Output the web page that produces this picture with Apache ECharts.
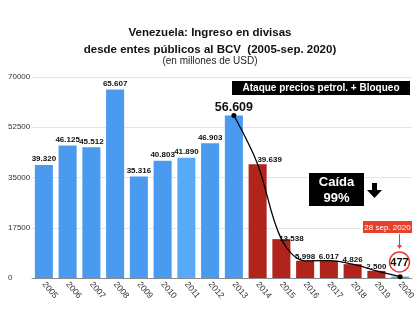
<!DOCTYPE html>
<html>
<head>
<meta charset="utf-8">
<script src="https://cdn.jsdelivr.net/npm/echarts@6/dist/echarts.min.js"></script>
<style>html,body{margin:0;padding:0;background:#fff}#c{width:420px;height:330px}</style>
</head>
<body>
<div id="c"></div>
<script>
const years = ['2005','2006','2007','2008','2009','2010','2011','2012','2013','2014','2015','2016','2017','2018','2019','2020'];
const ingresos = [39320, 46125, 45512, 65607, 35316, 40803, 41890, 46903, 56609, 39639, 13538, 5998, 6017, 4826, 2500, 477];
const periodo = ['azul','azul','azul','azul','azul','azul','azul2','azul','azul','rojo','rojo','rojo','rojo','rojo','rojo','azul'];
const tendencia = [null, null, null, null, null, null, null, null, 56609, 39639, 13538, 5998, 6017, 4826, 2500, 477];
const yTicks = [0, 17500, 35000, 52500, 70000];

const colors = {azul: '#4A9BF0', azul2: '#58A9F6', rojo: '#B1241C'};
const FONT = 'Liberation Sans, Arial, sans-serif';

function fmt(v){ return String(v).replace(/\B(?=(\d{3})+(?!\d))/g, '.'); }

const barData = ingresos.map((v, i) => {
  const item = {value: v, itemStyle: {color: colors[periodo[i]]}};
  if (i === 8) item.label = {fontSize: 12.5, distance: 1};
  if (i === 9) item.label = {offset: [12, 2]};
  if (i === 10) item.label = {offset: [10, 6]};
  if (i >= 11 && i <= 14) item.label = {distance: 0};
  if (i === 15) item.label = {show: false};
  return item;
});

const lineData = tendencia.map((v, i) => {
  if (v === null) return null;
  const item = {value: v};
  item.symbol = (i === 8 || i === 15) ? 'circle' : 'none';
  item.symbolSize = 5;
  return item;
});

const chart = echarts.init(document.getElementById('c'), null, {renderer: 'canvas'});
chart.setOption({
  animation: false,
  textStyle: {fontFamily: FONT},
  title: [
    {text: 'Venezuela: Ingreso en divisas\ndesde entes públicos al BCV  (2005-sep. 2020)', left: 'center', top: 24, padding: 0,
     textStyle: {fontSize: 11.5, fontWeight: 'bold', color: '#111', lineHeight: 17, fontFamily: FONT}},
    {text: '(en millones de USD)', left: 'center', top: 56, padding: 0,
     textStyle: {fontSize: 10, fontWeight: 'normal', color: '#222', fontFamily: FONT}}
  ],
  grid: {left: 32, right: 8, top: 77, bottom: 52, containLabel: false},
  xAxis: {
    type: 'category', data: years,
    axisLine: {lineStyle: {color: '#8a8a8a'}},
    axisTick: {show: false},
    axisLabel: {rotate: -50, fontSize: 8.5, color: '#333', margin: 5, interval: 0}
  },
  yAxis: {
    type: 'value', min: yTicks[0], max: yTicks[yTicks.length - 1], interval: yTicks[1] - yTicks[0],
    axisLine: {show: false}, axisTick: {show: false},
    axisLabel: {fontSize: 8, color: '#333', margin: 24, align: 'left', formatter: v => String(v)},
    splitLine: {lineStyle: {color: '#e4e4e4'}}
  },
  series: [
    {type: 'bar', data: barData, barCategoryGap: '24%',
     label: {show: true, position: 'top', distance: 2, fontSize: 8, fontWeight: 'bold', color: '#111',
             formatter: p => fmt(p.value)}},
    {type: 'line', data: lineData, smooth: 0.35, connectNulls: false,
     lineStyle: {color: '#000', width: 1.3}, itemStyle: {color: '#000'}, z: 5}
  ],
  graphic: {elements: [
    {type: 'rect', z: 100, shape: {x: 232, y: 81, width: 178, height: 14}, style: {fill: '#000'}},
    {type: 'text', z: 101, x: 321, y: 88, style: {text: 'Ataque precios petrol. + Bloqueo', fill: '#fff', font: 'bold 10px ' + FONT, align: 'center', verticalAlign: 'middle'}},
    {type: 'rect', z: 100, shape: {x: 309, y: 173, width: 55, height: 33}, style: {fill: '#000'}},
    {type: 'text', z: 101, x: 336.5, y: 182, style: {text: 'Caída', fill: '#fff', font: 'bold 13px ' + FONT, align: 'center', verticalAlign: 'middle'}},
    {type: 'text', z: 101, x: 336.5, y: 198, style: {text: '99%', fill: '#fff', font: 'bold 13px ' + FONT, align: 'center', verticalAlign: 'middle'}},
    {type: 'polygon', z: 100, shape: {points: [[372, 183], [377, 183], [377, 190], [382, 190], [374.5, 198], [367, 190], [372, 190]]}, style: {fill: '#000'}},
    {type: 'rect', z: 100, shape: {x: 363, y: 221, width: 49, height: 12}, style: {fill: '#E5402C'}},
    {type: 'text', z: 101, x: 387.5, y: 227.5, style: {text: '28 sep. 2020', fill: '#fff', font: '8px ' + FONT, align: 'center', verticalAlign: 'middle'}},
    {type: 'line', z: 100, shape: {x1: 399.5, y1: 234, x2: 399.5, y2: 247}, style: {stroke: '#E5402C', lineWidth: 1}},
    {type: 'polygon', z: 100, shape: {points: [[397, 245], [402, 245], [399.5, 249]]}, style: {fill: '#E5402C'}},
    {type: 'circle', z: 100, shape: {cx: 399.5, cy: 262, r: 10}, style: {fill: '#fff', stroke: '#E5402C', lineWidth: 1.5}},
    {type: 'text', z: 101, x: 399.5, y: 262.5, style: {text: '477', fill: '#111', font: 'bold 11px ' + FONT, align: 'center', verticalAlign: 'middle'}}
  ]}
});
</script>
</body>
</html>
